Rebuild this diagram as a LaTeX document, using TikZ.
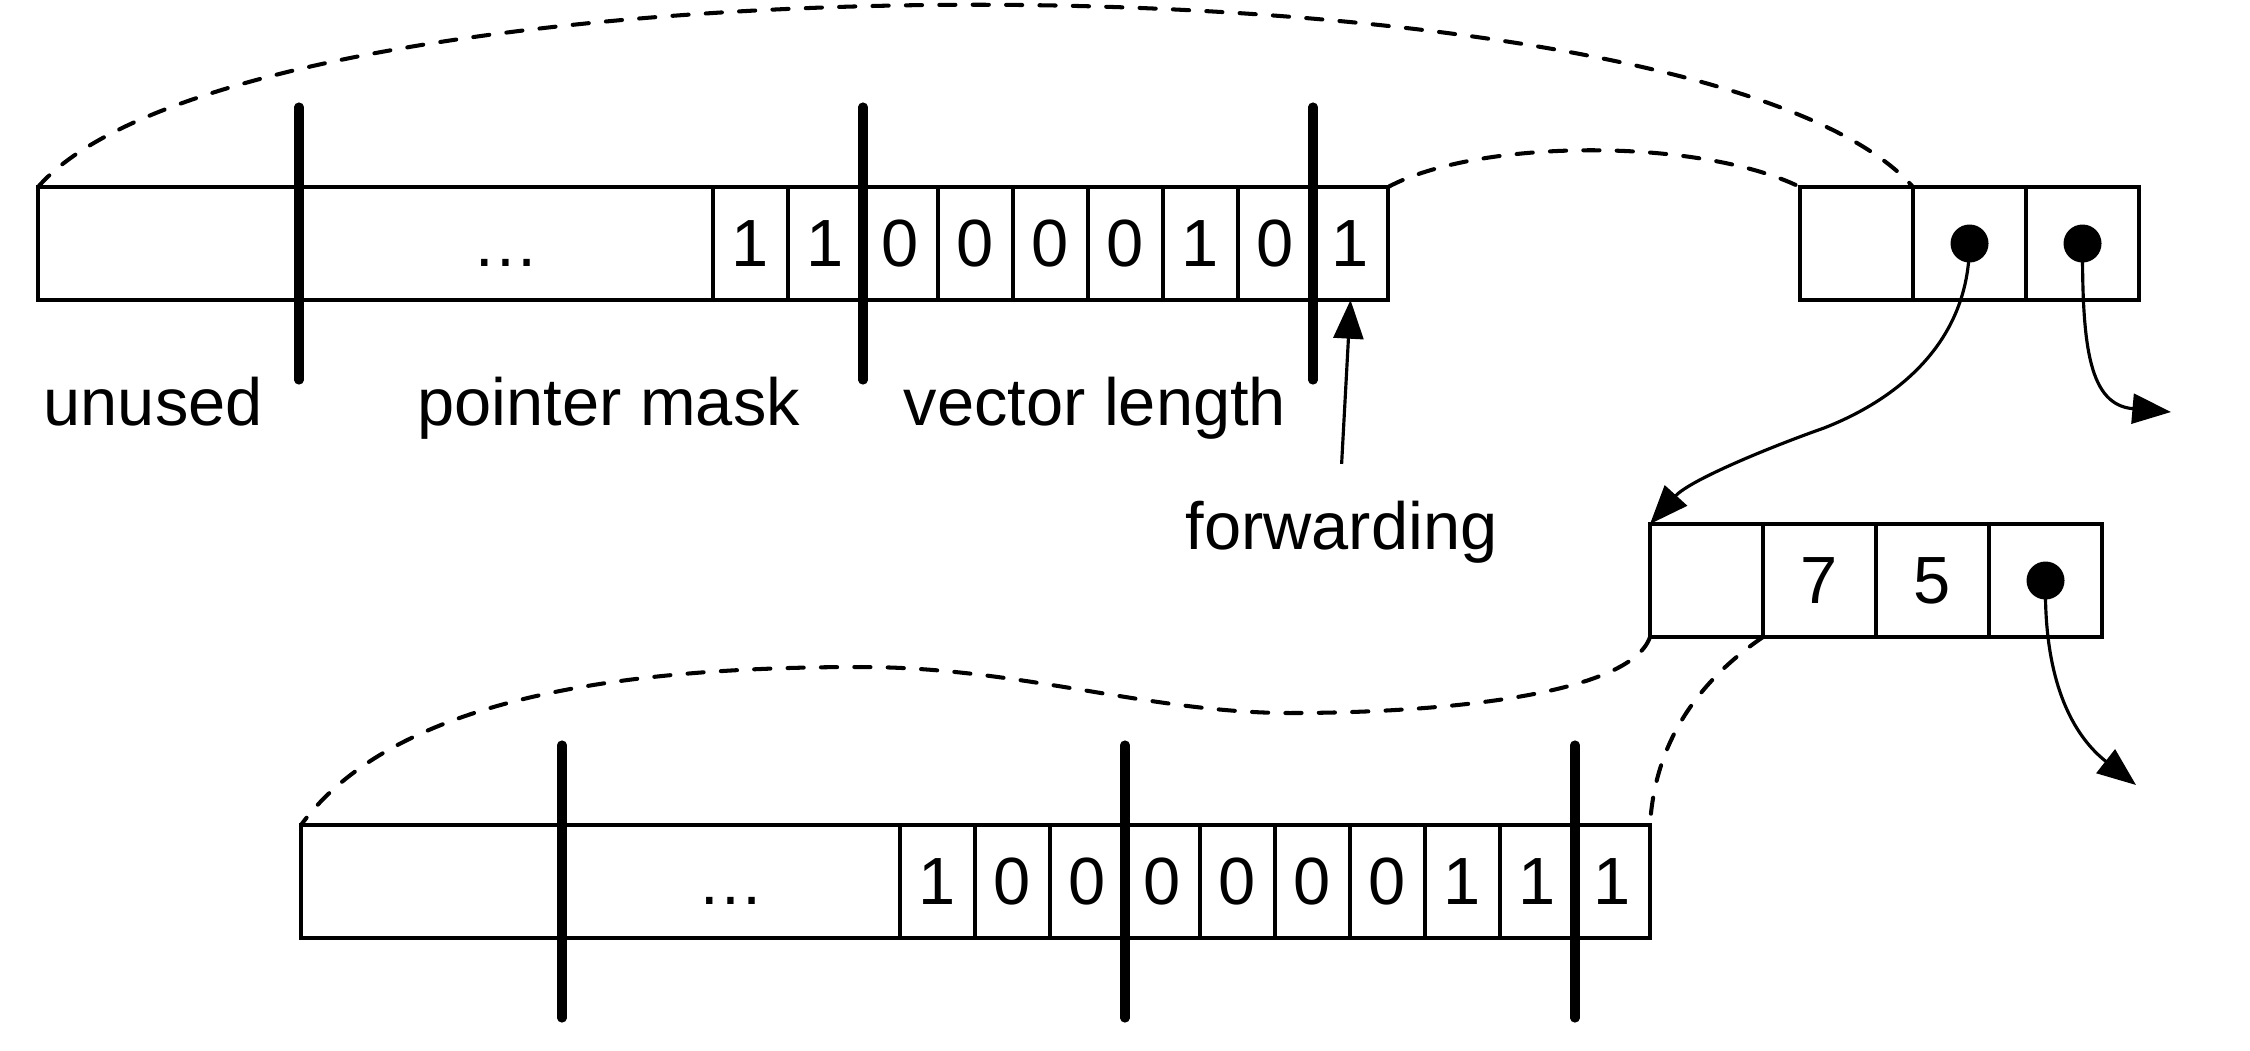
\documentclass[tikz,border=0pt]{standalone}
\usepackage{fontspec}
\setmainfont{Liberation Sans}
\usetikzlibrary{arrows.meta}

\begin{document}
\begin{tikzpicture}[
    bit/.style={draw, line width=0.95pt, minimum width=0.75cm, minimum height=1.13cm,
      inner sep=0pt, outer sep=0pt, font=\fontsize{19}{19}\selectfont},
    field/.style={bit},
    slot/.style={bit, minimum width=1.13cm},
    divider/.style={line width=2.6pt, line cap=round},
    link/.style={line width=1.15pt, line cap=round, dash pattern=on 4.6pt off 4.9pt},
    ptr/.style={line width=0.9pt, -{Triangle[length=11pt,width=8.5pt]}},
    lbl/.style={anchor=base west, inner sep=0pt, font=\fontsize{19}{19}\selectfont}]
  \useasboundingbox (0,0) rectangle (22.5,-10.5);

  % Header word of the first object
  \node[field, minimum width=2.61cm] (tu) at (1.685,-2.435) {};
  \node[field, minimum width=4.14cm] (tm) at (5.06,-2.435) {\vphantom{1}…};
  \foreach \v [count=\i] in {1,1,0,0,0,0,1,0,1}
    \node[bit] (t\i) at ({6.755+0.75*\i},-2.435) {\v};
  \draw[divider] ([yshift=8mm]tu.north east) -- ([yshift=-8mm]tu.south east);
  \draw[divider] ([yshift=8mm]t2.north east) -- ([yshift=-8mm]t2.south east);
  \draw[divider] ([yshift=8mm]t8.north east) -- ([yshift=-8mm]t8.south east);

  % Field labels
  \node[lbl] (lu) at (0.43,-4.25) {unused};
  \node[lbl] (lp) at (4.17,-4.25) {pointer mask};
  \node[lbl] (lv) at (9.03,-4.25) {vector length};
  \node[lbl] (fwd) at (11.85,-5.49) {forwarding};
  \draw[ptr] ([yshift=3.6mm]fwd.north) -- (t9.south);

  % Header word of the second object
  \node[field, minimum width=2.61cm] (bu) at (4.315,-8.815) {};
  \node[field, minimum width=3.38cm] (bm) at (7.31,-8.815) {\vphantom{1}…};
  \foreach \v [count=\i] in {1,0,0,0,0,0,0,1,1,1}
    \node[bit] (b\i) at ({8.625+0.75*\i},-8.815) {\v};
  \draw[divider] ([yshift=8mm]bu.north east) -- ([yshift=-8mm]bu.south east);
  \draw[divider] ([yshift=8mm]b3.north east) -- ([yshift=-8mm]b3.south east);
  \draw[divider] ([yshift=8mm]b9.north east) -- ([yshift=-8mm]b9.south east);

  % The two objects
  \node[slot] (r1) at (18.565,-2.435) {};
  \node[slot] (r2) at (19.695,-2.435) {};
  \node[slot] (r3) at (20.825,-2.435) {};
  \node[slot] (m1) at (17.065,-5.805) {};
  \node[slot] (m2) at (18.195,-5.805) {7};
  \node[slot] (m3) at (19.325,-5.805) {5};
  \node[slot] (m4) at (20.455,-5.805) {};
  \fill (r2) circle (0.19);
  \fill (r3) circle (0.19);
  \fill (m4) circle (0.19);

  % Headers blown up
  \draw[link] (tu.north west) .. controls (2.50,0.56) and (17.00,0.56) .. (r1.north east);
  \draw[link] (t9.north east) .. controls (14.80,-1.38) and (17.00,-1.38) .. (r1.north west);
  \draw[link] (m1.south west) .. controls (16.30,-6.95) and (14.40,-7.13) .. (12.90,-7.13)
    .. controls (11.50,-7.13) and (10.20,-6.67) .. (8.61,-6.67)
    .. controls (6.50,-6.67) and (4.00,-6.90) .. (bu.north west);
  \draw[link] (m2.south west) .. controls (17.00,-6.80) and (16.55,-7.40) .. (b10.north east);

  % Pointers
  \coordinate (o1) at (21.71,-4.12);
  \coordinate (o2) at (21.36,-7.85);
  \draw[ptr] (r2.center) .. controls (19.69,-3.60) and (18.70,-4.10) .. (18.24,-4.28)
    .. controls (17.70,-4.47) and (16.90,-4.80) .. (m1.north west);
  \draw[ptr] (r3.center) .. controls (20.82,-3.50) and (20.90,-4.05) .. (o1);
  \draw[ptr] (m4.center) .. controls (20.43,-7.00) and (20.85,-7.45) .. (o2);
\end{tikzpicture}
\end{document}
